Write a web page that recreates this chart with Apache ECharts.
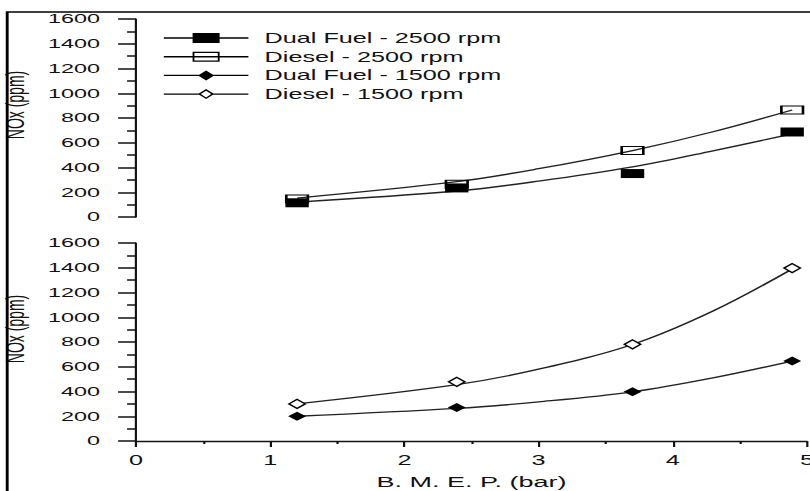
<!DOCTYPE html>
<html>
<head>
<meta charset="utf-8">
<script src="https://cdn.jsdelivr.net/npm/echarts@6/dist/echarts.min.js"></script>
<style>
html,body{margin:0;padding:0;background:#fff;overflow:hidden;width:810px;height:491px;}
#c{width:450px;height:491px;transform:scaleX(1.8);transform-origin:0 0;}
</style>
</head>
<body>
<div id="c"></div>
<script>
// measured points (B.M.E.P. in bar)
const xPts = [1.2, 2.39, 3.7, 4.89];
const dualFuel2500 = [115, 235, 351, 687];
const diesel2500 = [145, 265, 537, 865];
const dualFuel1500 = [200, 271, 397, 646];
const diesel1500 = [300, 478, 781, 1397];
// fitted trend curves
const xFit = [1.2, 2.39, 3, 3.7, 4.3, 4.89];
const dualFuel2500Fit = [121, 210, 290, 405, 535, 672];
const diesel2500Fit = [153, 285, 390, 537, 689, 865];
const dualFuel1500Fit = [200, 263, 316, 397, 510, 646];
const diesel1500Fit = [300, 455, 580, 780, 1050, 1390];
const seriesNames = ['Dual Fuel - 2500 rpm', 'Diesel - 2500 rpm', 'Dual Fuel - 1500 rpm', 'Diesel - 1500 rpm'];
const xName = 'B. M. E. P. (bar)';
const yName = 'NOx (ppm)';

const pairs = (xs, ys) => xs.map((x, i) => [x, ys[i]]);
const FONT = 'Liberation Sans';
const INK = '#111';

const icons = {
  filledRect: 'path://M0,4.8H47V6.2H0Z M16,0.5H31V10.5H16Z',
  hollowRect: 'path://M0,4.8H47V6.2H0Z M16,0.5H31V10.5H16Z M17,1.7V9.3H30V1.7Z',
  filledDiamond: 'path://M0,4.8H47V6.2H0Z M23.5,0.5L28,5.5L23.5,10.5L19,5.5Z',
  hollowDiamond: 'path://M0,4.8H19.6V6.2H0Z M27.4,4.8H47V6.2H27.4Z M23.5,0.5L28,5.5L23.5,10.5L19,5.5Z M23.5,2.2L20.6,5.5L23.5,8.8L26.4,5.5Z'
};

function yAxisCfg(gridIndex) {
  return {
    type: 'value', gridIndex: gridIndex, min: 0, max: 1600, interval: 200,
    name: yName, nameLocation: 'middle', nameGap: 58,
    nameTextStyle: { fontFamily: FONT, fontSize: 14, color: INK, padding: [0, 0, 0, 26] },
    axisLine: { show: true, lineStyle: { color: INK, width: 1.2 } },
    axisTick: { show: true, length: 10, lineStyle: { color: INK, width: 1.5 } },
    minorTick: { show: true, splitNumber: 2, length: 5, lineStyle: { color: INK, width: 1.5 } },
    axisLabel: { fontFamily: FONT, fontSize: 13, color: INK, margin: 20, formatter: v => String(v) },
    splitLine: { show: false }
  };
}

function lineSeries(name, ys, axis) {
  return {
    name: name, type: 'line', xAxisIndex: axis, yAxisIndex: axis,
    data: pairs(xFit, ys), smooth: 0.35, symbol: 'none', showSymbol: false,
    lineStyle: { color: '#222', width: 1.3 }, z: 2, silent: true
  };
}
function scatterSeries(name, ys, axis, symbol, size, fill, borderW) {
  return {
    name: name, type: 'scatter', xAxisIndex: axis, yAxisIndex: axis,
    data: pairs(xPts, ys), symbol: symbol, symbolSize: size,
    itemStyle: { color: fill, borderColor: '#000', borderWidth: borderW, opacity: 1 },
    z: 3
  };
}

const chart = echarts.init(document.getElementById('c'), null, { renderer: 'svg' });
chart.setOption({
  animation: false,
  backgroundColor: '#fff',
  textStyle: { fontFamily: FONT },
  grid: [
    { left: 75.6, right: 1.7, top: 19, height: 198, containLabel: false, outerBoundsMode: 'none' },
    { left: 75.6, right: 1.7, top: 243, height: 198, containLabel: false, outerBoundsMode: 'none' }
  ],
  xAxis: [
    { type: 'value', gridIndex: 0, min: 0, max: 5, show: false },
    {
      type: 'value', gridIndex: 1, min: 0, max: 5, interval: 1,
      name: xName, nameLocation: 'middle', nameGap: 33,
      nameTextStyle: { fontFamily: FONT, fontSize: 15, color: INK },
      axisLine: { show: true, lineStyle: { color: INK, width: 1.3 } },
      axisTick: { show: true, length: 6, lineStyle: { color: INK, width: 1.2 } },
      minorTick: { show: true, splitNumber: 2, length: 3, lineStyle: { color: INK, width: 1.2 } },
      axisLabel: { fontFamily: FONT, fontSize: 14, color: INK, margin: 12, showMaxLabel: true, showMinLabel: true },
      splitLine: { show: false }
    }
  ],
  yAxis: [yAxisCfg(0), yAxisCfg(1)],
  legend: {
    orient: 'vertical', left: 86, top: 26,
    itemWidth: 47, itemHeight: 11, itemGap: 4.7,
    symbolKeepAspect: true,
    selectedMode: false,
    itemStyle: { color: '#000', borderWidth: 0 },
    textStyle: { fontFamily: FONT, fontSize: 14, color: INK, padding: [0, 0, 0, 4] },
    data: [
      { name: seriesNames[0], icon: icons.filledRect },
      { name: seriesNames[1], icon: icons.hollowRect },
      { name: seriesNames[2], icon: icons.filledDiamond },
      { name: seriesNames[3], icon: icons.hollowDiamond }
    ]
  },
  graphic: [{
    type: 'rect', shape: { x: 4, y: 12, width: 700, height: 700 },
    style: { fill: 'none', stroke: '#000', lineWidth: 1.6 }, silent: true, z: 100
  }],
  series: [
    lineSeries(seriesNames[0], dualFuel2500Fit, 0),
    lineSeries(seriesNames[1], diesel2500Fit, 0),
    lineSeries(seriesNames[2], dualFuel1500Fit, 1),
    lineSeries(seriesNames[3], diesel1500Fit, 1),
    scatterSeries(seriesNames[0], dualFuel2500, 0, 'rect', [13, 9], '#000', 0),
    scatterSeries(seriesNames[1], diesel2500, 0, 'rect', [12, 8], 'rgba(255,255,255,0)', 1.2),
    scatterSeries(seriesNames[2], dualFuel1500, 1, 'diamond', [10, 9], '#000', 0),
    scatterSeries(seriesNames[3], diesel1500, 1, 'diamond', [9, 9], '#fff', 1.2)
  ]
});
</script>
</body>
</html>
